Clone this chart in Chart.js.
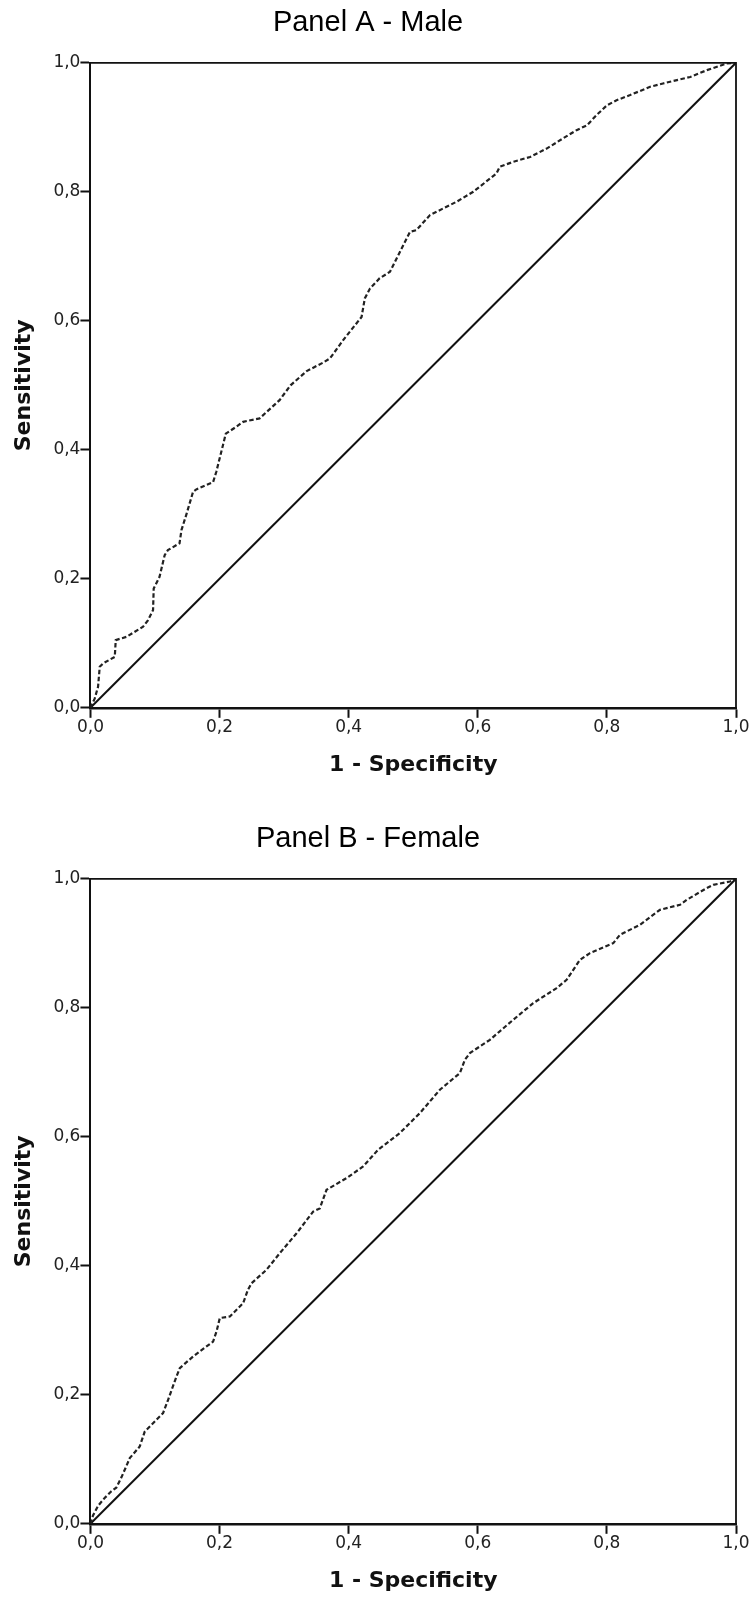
<!DOCTYPE html>
<html>
<head>
<meta charset="utf-8">
<script src="https://cdn.jsdelivr.net/npm/chart.js@4.4.1/dist/chart.umd.min.js"></script>
<style>
  html, body { margin: 0; padding: 0; background: #fff; width: 753px; height: 1601px; overflow: hidden; }
  canvas { position: absolute; left: 0; display: block; }
  #cA { top: 0; }
  #cB { top: 816px; }
</style>
</head>
<body>
<canvas id="cA" width="753" height="785" style="width:753px;height:785px"></canvas>
<canvas id="cB" width="753" height="785" style="width:753px;height:785px"></canvas>
<script>
// ---- data ----
const tickValues = [0, 0.2, 0.4, 0.6, 0.8, 1.0];
const tickLabels = ['0,0', '0,2', '0,4', '0,6', '0,8', '1,0'];

const panelTitles = ['Panel A - Male', 'Panel B - Female'];
const xAxisTitle = '1 - Specificity';
const yAxisTitle = 'Sensitivity';

const diagX = [0, 1];
const diagY = [0, 1];

const maleFpr = [0, 0.0067, 0.0118, 0.0144, 0.0195, 0.0377, 0.0392, 0.0558, 0.0815, 0.0893, 0.097, 0.098, 0.107, 0.115, 0.120, 0.138, 0.141, 0.149, 0.159, 0.164, 0.190, 0.195, 0.2097, 0.226, 0.2365, 0.262, 0.293, 0.31, 0.335, 0.36, 0.371, 0.3915, 0.420, 0.425, 0.433, 0.448, 0.464, 0.495, 0.505, 0.526, 0.567, 0.593, 0.629, 0.634, 0.655, 0.681, 0.7067, 0.732, 0.753, 0.769, 0.784, 0.800, 0.815, 0.836, 0.867, 0.887, 0.929, 0.955, 0.9856, 1];
const maleTpr = [0, 0.0146, 0.0326, 0.0636, 0.0688, 0.079, 0.105, 0.110, 0.1256, 0.136, 0.1515, 0.185, 0.203, 0.2367, 0.2445, 0.255, 0.2755, 0.301, 0.335, 0.3386, 0.350, 0.366, 0.425, 0.4357, 0.4434, 0.4487, 0.477, 0.50, 0.522, 0.535, 0.5417, 0.570, 0.606, 0.6347, 0.650, 0.666, 0.676, 0.738, 0.7406, 0.764, 0.7845, 0.800, 0.8285, 0.8388, 0.8465, 0.854, 0.867, 0.8828, 0.8956, 0.903, 0.919, 0.934, 0.942, 0.950, 0.9628, 0.968, 0.978, 0.9886, 0.999, 1];

const femaleFpr = [0, 0.004, 0.012, 0.022, 0.032, 0.040, 0.048, 0.055, 0.0609, 0.0764, 0.0841, 0.1125, 0.1203, 0.1333, 0.1384, 0.159, 0.190, 0.1953, 0.2004, 0.216, 0.2365, 0.244, 0.2495, 0.2727, 0.2934, 0.319, 0.345, 0.3553, 0.3657, 0.3967, 0.4224, 0.4457, 0.479, 0.5103, 0.5413, 0.5723, 0.580, 0.5878, 0.6188, 0.6549, 0.6859, 0.7221, 0.7376, 0.7583, 0.7738, 0.8099, 0.8203, 0.8512, 0.8822, 0.9132, 0.9236, 0.9546, 0.9648, 0.9907, 1];
const femaleTpr = [0, 0.013, 0.028, 0.040, 0.050, 0.056, 0.072, 0.088, 0.1018, 0.1199, 0.143, 0.1716, 0.1922, 0.2284, 0.2414, 0.2594, 0.2826, 0.298, 0.319, 0.3214, 0.342, 0.3628, 0.373, 0.3938, 0.4197, 0.450, 0.484, 0.489, 0.5178, 0.5359, 0.554, 0.580, 0.6056, 0.6367, 0.6729, 0.6988, 0.7194, 0.7298, 0.7504, 0.7814, 0.8072, 0.8305, 0.8434, 0.8744, 0.8848, 0.9003, 0.9132, 0.9287, 0.9519, 0.9597, 0.9674, 0.9855, 0.9907, 0.9958, 1];

// ---- chart construction ----
const toPoints = (xs, ys) => xs.map((x, i) => ({ x: x, y: ys[i] }));

const frameBorder = {
  id: 'frameBorder',
  afterDatasetsDraw(chart) {
    const { ctx, chartArea: a } = chart;
    ctx.save();
    ctx.strokeStyle = '#111';
    ctx.lineWidth = 1.8;
    ctx.beginPath();
    ctx.moveTo(a.left, a.top);
    ctx.lineTo(a.right, a.top);
    ctx.lineTo(a.right, a.bottom);
    ctx.stroke();
    ctx.restore();
  }
};

function axisOptions(isX) {
  return {
    type: 'linear',
    position: isX ? 'bottom' : 'left',
    min: 0,
    max: 1,
    afterBuildTicks(scale) { scale.ticks = tickValues.map(v => ({ value: v })); },
    ticks: {
      autoSkip: false,
      maxRotation: 0,
      padding: 0,
      color: '#222',
      font: { family: 'DejaVu Sans', size: 17 },
      callback: (v, i) => tickLabels[i]
    },
    grid: {
      drawOnChartArea: false,
      drawTicks: true,
      tickLength: 10,
      tickWidth: 2,
      tickColor: '#111'
    },
    border: { display: true, color: '#111', width: isX ? 2.5 : 2 },
    title: {
      display: true,
      text: isX ? xAxisTitle : yAxisTitle,
      color: '#111',
      font: { family: 'DejaVu Sans', size: 22, weight: 'bold' },
      padding: isX ? { top: 14, bottom: 4 } : { top: 11, bottom: 16 }
    }
  };
}

function makeRoc(id, title, fpr, tpr) {
  return new Chart(document.getElementById(id), {
    type: 'scatter',
    data: {
      datasets: [
        {
          data: toPoints(fpr, tpr),
          showLine: true,
          borderColor: '#222',
          borderWidth: 2.2,
          borderDash: [4.5, 2.5],
          pointRadius: 0,
          tension: 0,
          fill: false
        },
        {
          data: toPoints(diagX, diagY),
          showLine: true,
          borderColor: '#111',
          borderWidth: 2,
          pointRadius: 0,
          fill: false
        }
      ]
    },
    options: {
      responsive: false,
      animation: false,
      devicePixelRatio: 1,
      layout: { padding: { left: 0, right: 17, top: 0, bottom: 2.4 } },
      scales: { x: axisOptions(true), y: axisOptions(false) },
      plugins: {
        legend: { display: false },
        tooltip: { enabled: false },
        title: {
          display: true,
          text: title,
          color: '#000',
          font: { family: 'Liberation Sans', size: 29, weight: 'normal' },
          padding: { top: 6, bottom: 22 }
        }
      }
    },
    plugins: [frameBorder]
  });
}

makeRoc('cA', panelTitles[0], maleFpr, maleTpr);
makeRoc('cB', panelTitles[1], femaleFpr, femaleTpr);
</script>
</body>
</html>
